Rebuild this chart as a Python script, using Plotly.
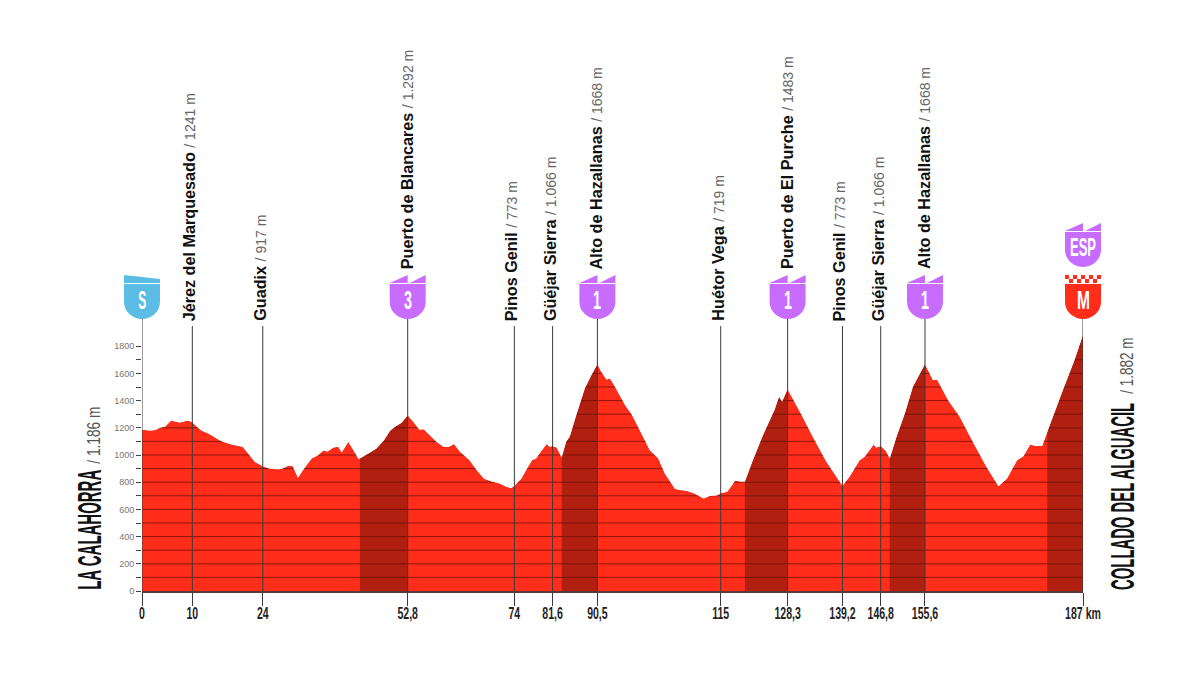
import json

import plotly.graph_objects as go

# profile: km, metres
km = [0, 1.6, 2.6, 3.6, 4.6, 5.8, 6.6, 7.5, 9.1, 10, 10.9, 11.9, 13.2, 14.5, 15.8, 17.8, 20, 21.1, 22.4, 24,
      25.4, 27.1, 28, 29, 29.9, 31, 32, 33.7, 35, 36, 36.9, 38, 39, 39.7, 41, 42, 43, 43.3, 45, 46.6,
      48.1, 49.3, 50.3, 51.6, 52.8, 53.9, 55.1, 56, 57.2, 58.5, 59.9, 60.9, 62, 63.2, 65.1, 66.5, 68, 69.5, 71.1, 72.4,
      73.4, 74, 75.4, 76.7, 77.5, 78.3, 79.4, 80.4, 81, 81.6, 82.4, 83.4, 84.3, 85, 86.3, 88, 89.3, 90.5, 91.3, 92.3,
      93, 94, 96, 97.3, 98.9, 100.9, 102.6, 103.9, 105.9, 106.9, 108.2, 109.8, 111.6, 112.8, 114.2, 115, 116.3, 117.9, 118.8, 119.8,
      121.4, 123.4, 125.7, 126.6, 127.2, 128.3, 130, 131, 133.3, 136, 139.2, 140.6, 142.6, 143.6, 145.4, 145.9, 146.8, 147.8, 148.6, 149.9,
      151.6, 153.2, 155.6, 157.2, 158, 160.2, 162.5, 165.1, 167.8, 170.2, 171.9, 173.9, 175.2, 176.5, 177.4, 178.9, 179.9, 183, 185.3, 187]
elevation = [1186, 1180, 1183, 1200, 1210, 1254, 1247, 1239, 1254, 1241, 1207, 1178, 1158, 1129, 1102, 1078, 1060, 1011, 950, 917,
             899, 896, 901, 921, 921, 833, 889, 975, 999, 1033, 1026, 1055, 1060, 1021, 1097, 1036, 972, 975, 1011, 1048,
             1109, 1178, 1207, 1237, 1292, 1244, 1188, 1190, 1146, 1097, 1060, 1058, 1080, 1024, 962, 889, 825, 806, 791, 767,
             757, 773, 828, 913, 962, 975, 1031, 1080, 1060, 1066, 1055, 982, 1097, 1134, 1293, 1489, 1587, 1668, 1611, 1555,
             1562, 1501, 1367, 1300, 1183, 1036, 975, 864, 752, 742, 737, 717, 681, 698, 703, 719, 730, 813, 806, 803,
             962, 1146, 1330, 1428, 1391, 1483, 1367, 1300, 1134, 950, 773, 840, 962, 987, 1078, 1056, 1066, 1031, 975, 1129,
             1305, 1501, 1668, 1550, 1555, 1403, 1281, 1097, 913, 771, 828, 962, 992, 1078, 1068, 1068, 1170, 1477, 1697, 1882]

climbs = [(43.3, 52.8), (83.4, 90.5), (119.8, 128.3), (148.6, 155.6), (179.9, 187)]

stage_km = [0, 10, 24, 52.8, 74, 81.6, 90.5, 115, 128.3, 139.2, 146.8, 155.6, 187]
stage_labels = ['0', '10', '24', '52,8', '74', '81,6', '90,5', '115', '128,3', '139,2', '146,8', '155,6', '187 km']

places = ['Jérez del Marquesado', 'Guadix', 'Puerto de Blancares', 'Pinos Genil', 'Güéjar Sierra', 'Alto de Hazallanas',
          'Huétor Vega', 'Puerto de El Purche', 'Pinos Genil', 'Güéjar Sierra', 'Alto de Hazallanas']
place_km = [10, 24, 52.8, 74, 81.6, 90.5, 115, 128.3, 139.2, 146.8, 155.6]
place_alt = ['1241 m', '917 m', '1.292 m', '773 m', '1.066 m', '1668 m', '719 m', '1483 m', '773 m', '1.066 m', '1668 m']

shield_km = [0, 52.8, 90.5, 128.3, 155.6, 187]
shield_text = ['S', '3', '1', '1', '1', 'M']

y_ticks = list(range(0, 1900, 100))
y_labels = [str(v) if v % 200 == 0 else '' for v in y_ticks]

RED = '#ff2d19'
DARK = '#b01f10'
PURPLE = '#c86cff'
BLUE = '#5bbde6'
FONT = 'Liberation Sans'
TOP = 2000

# no condensed face is installed: these texts get squeezed to their width in the page
squeezed = {'S': 8, '3': 8, '1': 8, 'M': 13, 'ESP': 26, 'LA CALAHORRA': 120, '/ 1.186 m': 57,
            'COLLADO DEL ALGUACIL': 187, '/ 1.882 m': 56}
squeeze_js = """
var targets = %s;
document.querySelectorAll('.annotation-text').forEach(function (t) {
    var want = targets[t.textContent];
    if (want) { t.setAttribute('textLength', want); t.setAttribute('lengthAdjust', 'spacingAndGlyphs'); }
});
document.querySelectorAll('.xtick text').forEach(function (t) {
    t.setAttribute('textLength', t.getComputedTextLength() * 0.62);
    t.setAttribute('lengthAdjust', 'spacingAndGlyphs');
});
""" % json.dumps(squeezed)

fig = go.Figure()
fig.add_trace(go.Scatter(x=km, y=elevation, fill='tozeroy', fillcolor=RED, mode='none', hoverinfo='skip'))
for start, end in climbs:
    part = [(k, e) for k, e in zip(km, elevation) if start <= k <= end]
    fig.add_trace(go.Scatter(x=[p[0] for p in part], y=[p[1] for p in part], fill='tozeroy', fillcolor=DARK,
                             mode='none', hoverinfo='skip'))

# grid lines across the whole profile, the white mask then cuts them to the shape
grid_x, grid_y = [], []
for v in y_ticks[1:]:
    grid_x += [0, 187, None]
    grid_y += [v, v, None]
fig.add_trace(go.Scatter(x=grid_x, y=grid_y, mode='lines', line=dict(color='#6e1007', width=0.8), hoverinfo='skip'))
fig.add_trace(go.Scatter(x=km + km[::-1], y=elevation + [1880] * len(km), fill='toself', fillcolor='white',
                         mode='none', hoverinfo='skip'))

# leader lines
for k in stage_km:
    top = TOP if k in shield_km else 1948
    fig.add_trace(go.Scatter(x=[k, k], y=[0, top], mode='lines', line=dict(color='#3a3a3a', width=1), hoverinfo='skip'))


def add_path(k, path, color):
    # paper refs so the shape is not clipped to the plot area
    fig.add_shape(type='path', path=path, xref='paper', yref='paper', xsizemode='pixel', ysizemode='pixel',
                  xanchor=k / 187, yanchor=1, fillcolor=color, line_width=0, layer='above')


def shield(k, lift, color, flag):
    add_path(k, 'M -18 %d L 18 %d L 18 %d C 18 %d 9 %d 0 %d C -9 %d -18 %d -18 %d Z'
             % (35 + lift, 35 + lift, 17 + lift, 7 + lift, lift, lift, lift, 7 + lift, 17 + lift), color)
    if flag == 'wedge':
        top = 'M -18 %d L -18 %d L 18 %d L 18 %d Z' % (36 + lift, 44 + lift, 40 + lift, 36 + lift)
    elif flag == 'double':
        top = ('M -18 %d L 0 %d L 0 %d Z M 2 %d L 18 %d L 18 %d Z'
               % (36 + lift, 44 + lift, 36 + lift, 36 + lift, 44 + lift, 36 + lift))
    else:
        top = ''
        for col in range(9):
            x0 = -18 + col * 4
            y0 = 36 + lift if col % 2 else 40 + lift
            top += 'M %d %d L %d %d L %d %d L %d %d Z ' % (x0, y0, x0 + 4, y0, x0 + 4, y0 + 4, x0, y0 + 4)
    add_path(k, top, color)


for k, t in zip(shield_km, shield_text):
    color = BLUE if t == 'S' else RED if t == 'M' else PURPLE
    flag = 'wedge' if t == 'S' else 'checker' if t == 'M' else 'double'
    shield(k, 0, color, flag)
    fig.add_annotation(x=k, y=TOP, yshift=19, yanchor='middle', text='<b>%s</b>' % t, showarrow=False,
                       font=dict(family=FONT, size=25, color='white'))
shield(187, 52, PURPLE, 'double')
fig.add_annotation(x=187, y=TOP, yshift=72, yanchor='middle', text='<b>ESP</b>', showarrow=False,
                   font=dict(family=FONT, size=25, color='white'))

for k, name, alt in zip(place_km, places, place_alt):
    has_shield = k in shield_km
    fig.add_annotation(x=k, y=TOP, xshift=-1 if has_shield else -3, yshift=48 if has_shield else -4, yanchor='bottom',
                       textangle=-90, showarrow=False,
                       text='<b>%s</b> <span style="color:#666666;font-size:14px">/ %s</span>' % (name, alt),
                       font=dict(family=FONT, size=16.2, color='#111111'))

# start and finish names, placed by their centres because squeezing keeps the centre
fig.add_annotation(x=0, y=448, xshift=-53, yanchor='middle', textangle=-90, showarrow=False, text='<b>LA CALAHORRA</b>',
                   font=dict(family=FONT, size=33, color='#111111'))
fig.add_annotation(x=0, y=1142, xshift=-48, yanchor='middle', textangle=-90, showarrow=False, text='/ 1.186 m',
                   font=dict(family=FONT, size=18, color='#555555'))
fig.add_annotation(x=187, y=695, xshift=39, yanchor='middle', textangle=-90, showarrow=False, text='<b>COLLADO DEL ALGUACIL</b>',
                   font=dict(family=FONT, size=33, color='#111111'))
fig.add_annotation(x=187, y=1653, xshift=44, yanchor='middle', textangle=-90, showarrow=False, text='/ 1.882 m',
                   font=dict(family=FONT, size=18, color='#555555'))

# the page body keeps its 8 px margin, so the figure is 16 px smaller than the window
fig.update_layout(
    width=1168, height=670, showlegend=False, paper_bgcolor='white', plot_bgcolor='white',
    margin=dict(l=134, r=92.5, t=311, b=87),
    xaxis=dict(range=[0, 187], tickvals=stage_km, ticktext=stage_labels, tickangle=0, showgrid=False, zeroline=False,
               showline=True, linecolor='#5a3a36', linewidth=2, ticks='outside', ticklen=13, tickcolor='#3a3a3a',
               ticklabelstandoff=-7, tickfont=dict(family=FONT, size=17, color='#222222', weight='bold')),
    yaxis=dict(range=[0, TOP], tickvals=y_ticks, ticktext=y_labels, showgrid=False, zeroline=False,
               ticks='outside', ticklen=5, tickcolor='#444444', tickfont=dict(family=FONT, size=9, color='#777777')),
)

fig.write_html("out.html", post_script=squeeze_js)
